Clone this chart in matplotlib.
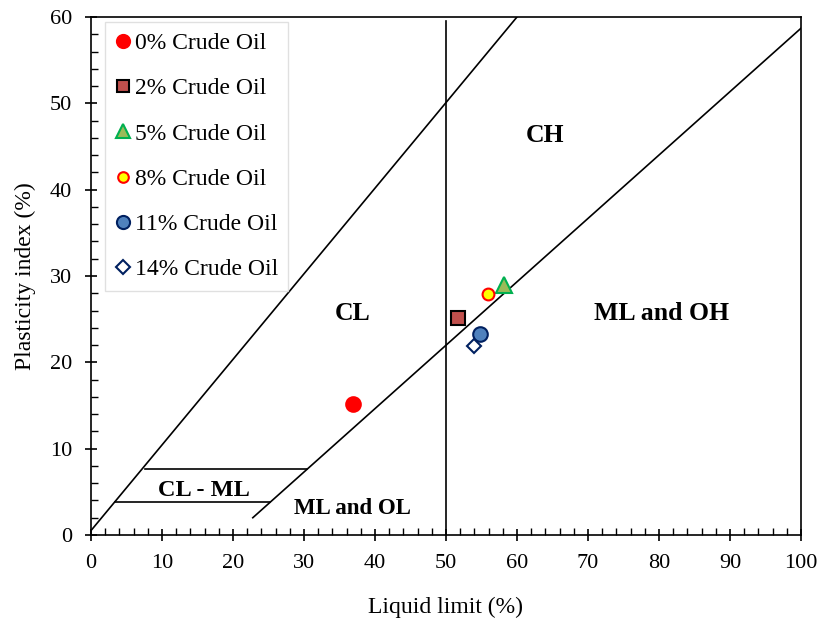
import matplotlib.pyplot as plt
from matplotlib.ticker import MultipleLocator

plt.rcParams['font.family'] = ['Liberation Serif', 'DejaVu Serif']

# sample data: (liquid limit, plasticity index)
labels = ['0% Crude Oil', '2% Crude Oil', '5% Crude Oil', '8% Crude Oil',
          '11% Crude Oil', '14% Crude Oil']
ll = [36.9, 51.7, 58.2, 55.9, 54.8, 53.9]
pi = [15.2, 25.1, 28.9, 27.9, 23.3, 21.9]

# chart boundary lines
u_line_x = [0, 60]
u_line_y = [0.5, 60]
a_line_x = [22.8, 100]
a_line_y = [2.0, 58.7]
ll50_x = [50, 50]
ll50_y = [0, 59.5]
clml_top_x = [7.6, 30.4]
clml_top_y = [7.6, 7.6]
clml_bot_x = [3.4, 25.2]
clml_bot_y = [3.8, 3.8]

styles = [
    dict(marker='o', color='#FF0000', mec='#FF0000', ms=10.5),
    dict(marker='s', color='#C0504D', mec='#000000', ms=9.5),
    dict(marker='^', color='#9BBB59', mec='#00B050', ms=11),
    dict(marker='o', color='#FFFF00', mec='#FF0000', ms=8.5),
    dict(marker='o', color='#4F81BD', mec='#002060', ms=10.5),
    dict(marker='D', color='#FFFFFF', mec='#002060', ms=7.5),
]

fig = plt.figure(figsize=(8.19, 6.26), dpi=100)
ax = fig.add_axes([0.111, 0.1454, 0.867, 0.8274])

for xs, ys in [(u_line_x, u_line_y), (a_line_x, a_line_y), (ll50_x, ll50_y),
               (clml_top_x, clml_top_y), (clml_bot_x, clml_bot_y)]:
    ax.plot(xs, ys, color='black', lw=1.2, zorder=2)

for i, lab in enumerate(labels):
    st = styles[i]
    ax.plot(ll[i], pi[i], linestyle='none', marker=st['marker'],
            markerfacecolor=st['color'], markeredgecolor=st['mec'],
            markersize=st['ms'], markeredgewidth=1.5, label=lab, zorder=3)

zone_font = dict(fontweight='bold', ha='center', va='center')
ax.text(36.8, 25.7, 'CL', fontsize=18.5, **zone_font)
ax.text(64.0, 46.3, 'CH', fontsize=18.5, **zone_font)
ax.text(80.4, 25.7, 'ML and OH', fontsize=18.5, **zone_font)
ax.text(15.9, 5.2, 'CL - ML', fontsize=17.5, **zone_font)
ax.text(36.8, 3.1, 'ML and OL', fontsize=16.5, **zone_font)

ax.set_xlim(0, 100)
ax.set_ylim(0, 60)
ax.xaxis.set_major_locator(MultipleLocator(10))
ax.xaxis.set_minor_locator(MultipleLocator(2))
ax.yaxis.set_major_locator(MultipleLocator(10))
ax.yaxis.set_minor_locator(MultipleLocator(2))
ax.tick_params(which='major', direction='inout', length=9, width=1.2,
               labelsize=16, pad=9)
ax.tick_params(which='minor', direction='in', length=5, width=1)
for s in ax.spines.values():
    s.set_linewidth(1.2)

ax.set_xlabel('Liquid limit (%)', fontsize=17, labelpad=17)
ax.set_ylabel('Plasticity index (%)', fontsize=17, labelpad=10)

leg = ax.legend(loc='upper left', bbox_to_anchor=(0.02, 0.99), fontsize=17,
                frameon=True, fancybox=False, handletextpad=0.2,
                handlelength=0.6, labelspacing=1.0, borderpad=0.45,
                borderaxespad=0, markerscale=0.9)
leg.get_frame().set_edgecolor('#D9D9D9')
leg.get_frame().set_linewidth(1)

fig.savefig('out.png', dpi=100)
